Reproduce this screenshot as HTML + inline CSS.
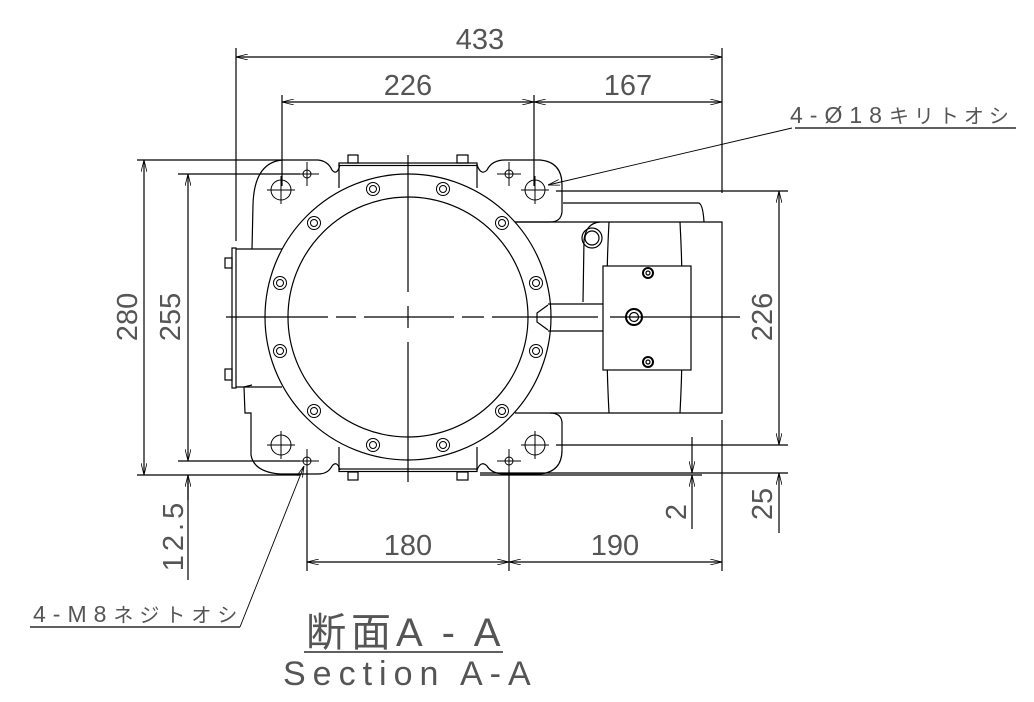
<!DOCTYPE html>
<html><head><meta charset="utf-8"><style>
html,body{margin:0;padding:0;background:#fff;}
svg{display:block;}
text{font-family:"Liberation Sans","Noto Sans CJK JP",sans-serif;fill:#555;}
</style></head><body>
<svg width="1034" height="702" viewBox="0 0 1034 702" xmlns="http://www.w3.org/2000/svg">
<defs>
<marker id="a" viewBox="0 0 12 6" refX="12" refY="3" markerWidth="12" markerHeight="6" markerUnits="userSpaceOnUse" orient="auto-start-reverse">
<path d="M0,0 L12,3 L0,6" fill="none" stroke="#000" stroke-width="0.8"/>
</marker>
</defs>
<g stroke="#000" stroke-width="1.2" fill="none">
<line x1="236" y1="48" x2="236" y2="241"/>
<line x1="722" y1="48" x2="722" y2="193"/>
<line x1="282" y1="95" x2="282" y2="186"/>
<line x1="534" y1="95" x2="534" y2="186"/>
<line x1="236" y1="57" x2="722" y2="57" marker-start="url(#a)" marker-end="url(#a)"/>
<line x1="282" y1="102" x2="534" y2="102" marker-start="url(#a)" marker-end="url(#a)"/>
<line x1="534" y1="102" x2="722" y2="102" marker-start="url(#a)" marker-end="url(#a)"/>
<line x1="137" y1="160" x2="282" y2="160"/>
<line x1="137" y1="475" x2="300" y2="475"/>
<line x1="178" y1="174" x2="300" y2="174"/>
<line x1="178" y1="461" x2="300" y2="461"/>
<line x1="144" y1="160" x2="144" y2="475" marker-start="url(#a)" marker-end="url(#a)"/>
<line x1="188" y1="174" x2="188" y2="461" marker-start="url(#a)" marker-end="url(#a)"/>
<line x1="188" y1="475" x2="188" y2="580"/>
<line x1="188" y1="500" x2="188" y2="475" marker-end="url(#a)"/>
<line x1="556" y1="191" x2="788" y2="191"/>
<line x1="556" y1="445" x2="788" y2="445"/>
<line x1="480" y1="473" x2="788" y2="473"/>
<line x1="480" y1="475" x2="702" y2="475"/>
<line x1="779" y1="191" x2="779" y2="445" marker-start="url(#a)" marker-end="url(#a)"/>
<line x1="779" y1="533" x2="779" y2="473" marker-end="url(#a)"/>
<line x1="692" y1="437" x2="692" y2="473" marker-end="url(#a)"/>
<line x1="692" y1="529" x2="692" y2="475" marker-end="url(#a)"/>
<line x1="722" y1="420" x2="722" y2="571"/>
<line x1="307" y1="470" x2="307" y2="571"/>
<line x1="509" y1="470" x2="509" y2="571"/>
<line x1="307" y1="562" x2="509" y2="562" marker-start="url(#a)" marker-end="url(#a)"/>
<line x1="509" y1="562" x2="722" y2="562" marker-start="url(#a)" marker-end="url(#a)"/>
<line x1="795" y1="128" x2="1016" y2="128"/>
<line x1="792" y1="128" x2="548" y2="185" stroke-width="0.9" marker-end="url(#a)"/>
<line x1="30" y1="627" x2="240" y2="627"/>
<line x1="240" y1="627" x2="304" y2="466" stroke-width="0.9" marker-end="url(#a)"/>
<line x1="304" y1="652" x2="503" y2="652"/>

<path d="M252,249 L253,205 Q254,163 282,160 L318,160 Q328,161 332,170 Q337,176 340,165"/>
<path d="M477,165 Q481,176 487,170 Q492,160 505,160 L540,160 Q562,162 562,185 L562,212 Q561,222 550,222 L515,222"/>
<path d="M563,203 L699,203 Q703,205 704,222"/>
<path d="M515,222 L722,222 L722,413 L515,413"/>
<path d="M252,385 L244,387 L245,413 L251,413 L251,455 Q254,472 280,474 L318,474 Q328,474 332,466 Q337,460 340,470"/>
<path d="M477,470 Q481,460 487,466 Q492,474 505,474 L540,474 Q562,472 562,450 L562,422 Q561,413 550,413"/>
<line x1="236" y1="249" x2="282" y2="249"/>
<line x1="236" y1="387" x2="282" y2="387"/>
<rect x="232" y="248" width="4" height="140"/>
<rect x="225" y="258" width="7" height="10"/>
<rect x="225" y="369" width="7" height="11"/>
<line x1="339" y1="164" x2="339" y2="188"/><line x1="477" y1="164" x2="477" y2="188"/>
<line x1="339" y1="447" x2="339" y2="470"/><line x1="477" y1="447" x2="477" y2="470"/>
<rect x="339" y="163" width="138" height="2.5"/>
<rect x="339" y="469" width="138" height="2.5"/>
<rect x="348" y="155" width="10" height="8"/><rect x="457" y="155" width="11" height="8"/>
<rect x="348" y="472" width="10" height="8"/><rect x="457" y="472" width="11" height="8"/>
<circle cx="408" cy="317" r="143"/>
<circle cx="408" cy="317" r="120"/>
<path d="M548,305 L537,313 L537,322 L548,330"/>
<line x1="548" y1="304" x2="603" y2="304"/>
<line x1="548" y1="331" x2="603" y2="331"/>
<path d="M609,222 Q604,317 609,413"/>
<path d="M680,222 Q685,317 680,413"/>
<path d="M583,302 L584,240 Q586,223 600,222"/>
<circle cx="592" cy="238" r="10"/><circle cx="592" cy="238" r="7"/>
<rect x="603" y="266" width="88" height="104" fill="#fff"/>
<circle cx="648" cy="273" r="5" stroke-width="2"/><circle cx="648" cy="273" r="2"/>
<circle cx="648" cy="362" r="5" stroke-width="2"/><circle cx="648" cy="362" r="2"/>
<circle cx="634" cy="317" r="8" stroke-width="2"/><circle cx="634" cy="317" r="4.5"/>
<line x1="408" y1="155" x2="408" y2="292"/>
<line x1="408" y1="306" x2="408" y2="328"/>
<line x1="408" y1="342" x2="408" y2="482"/>
<path d="M226,317 L328,317 M336,317 L356,317 M364,317 L454,317 M462,317 L484,317 M492,317 L598,317 M610,317 L740,317"/>
</g>
<g stroke="#000" stroke-width="1" fill="none">
<circle cx="373" cy="189" r="6.5"/><circle cx="373" cy="189" r="3.5"/>
<circle cx="443" cy="189" r="6.5"/><circle cx="443" cy="189" r="3.5"/>
<circle cx="314" cy="223" r="6.5"/><circle cx="314" cy="223" r="3.5"/>
<circle cx="502" cy="223" r="6.5"/><circle cx="502" cy="223" r="3.5"/>
<circle cx="280" cy="283" r="6.5"/><circle cx="280" cy="283" r="3.5"/>
<circle cx="536" cy="283" r="6.5"/><circle cx="536" cy="283" r="3.5"/>
<circle cx="280" cy="351" r="6.5"/><circle cx="280" cy="351" r="3.5"/>
<circle cx="536" cy="351" r="6.5"/><circle cx="536" cy="351" r="3.5"/>
<circle cx="314" cy="411" r="6.5"/><circle cx="314" cy="411" r="3.5"/>
<circle cx="502" cy="411" r="6.5"/><circle cx="502" cy="411" r="3.5"/>
<circle cx="373" cy="445" r="6.5"/><circle cx="373" cy="445" r="3.5"/>
<circle cx="443" cy="445" r="6.5"/><circle cx="443" cy="445" r="3.5"/>
<circle cx="281" cy="190" r="10"/><circle cx="535" cy="190" r="10"/>
<circle cx="281" cy="445" r="10"/><circle cx="535" cy="445" r="10"/>
<circle cx="307" cy="174" r="4"/><circle cx="509" cy="174" r="4"/>
<circle cx="307" cy="461" r="4"/><circle cx="509" cy="461" r="4"/>
<path d="M267,190 L295,190 M281,176 L281,204 M521,190 L549,190 M535,176 L535,204 M267,445 L295,445 M281,431 L281,459 M521,445 L549,445 M535,431 L535,459"/>
<path d="M295,174 L319,174 M307,162 L307,186 M497,174 L521,174 M509,162 L509,186 M295,461 L319,461 M307,449 L307,473 M497,461 L521,461 M509,449 L509,473"/>
</g>
<text x="480" y="49" font-size="29" text-anchor="middle">433</text>
<text x="408" y="95" font-size="29" text-anchor="middle">226</text>
<text x="628" y="95" font-size="29" text-anchor="middle">167</text>
<text x="408" y="555" font-size="29" text-anchor="middle">180</text>
<text x="615" y="555" font-size="29" text-anchor="middle">190</text>
<text transform="translate(137,317) rotate(-90)" font-size="29" text-anchor="middle">280</text>
<text transform="translate(180,317) rotate(-90)" font-size="29" text-anchor="middle">255</text>
<text transform="translate(183,535) rotate(-90)" font-size="29" text-anchor="middle" letter-spacing="4">12.5</text>
<text transform="translate(772,317) rotate(-90)" font-size="29" text-anchor="middle">226</text>
<text transform="translate(772,504) rotate(-90)" font-size="29" text-anchor="middle">25</text>
<text transform="translate(686,512) rotate(-90)" font-size="29" text-anchor="middle">2</text>
<text x="790" y="123" font-size="23" letter-spacing="7">4-Ø18<tspan font-size="20" letter-spacing="5">キリトオシ</tspan></text>
<text x="33" y="622" font-size="23" letter-spacing="7">4-M8<tspan font-size="20" letter-spacing="6">ネジトオシ</tspan></text>
<text x="306" y="646" font-size="40" letter-spacing="5">断面A - A</text>
<text x="283" y="685" font-size="34" letter-spacing="7">Section A-A</text>
</svg>
</body></html>
